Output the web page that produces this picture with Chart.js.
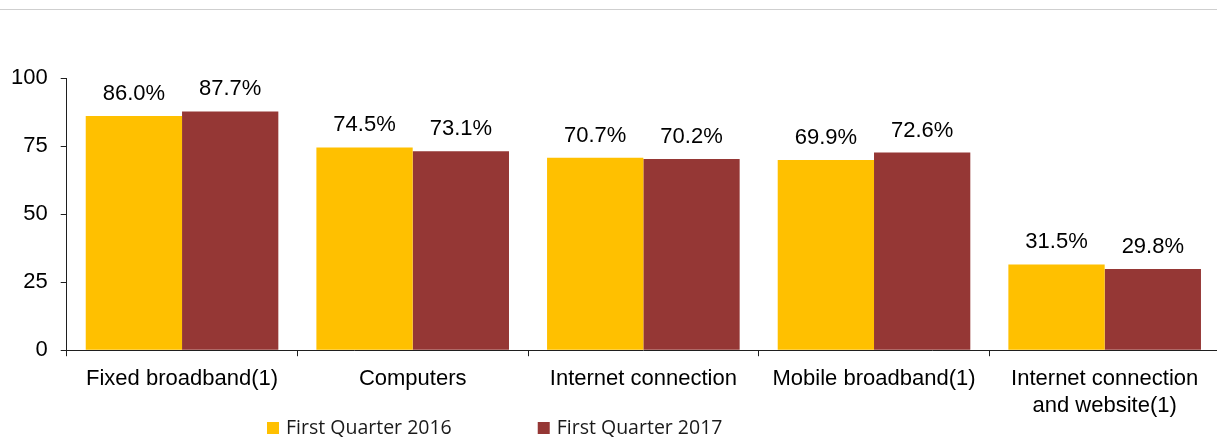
<!DOCTYPE html>
<html>
<head>
<meta charset="utf-8">
<script src="https://cdn.jsdelivr.net/npm/chart.js@4"></script>
<style>
    html, body { margin: 0; padding: 0; background: #fff; overflow: hidden; }
    #wrap { position: relative; width: 1220px; height: 438px; }
</style>
</head>
<body>
<div id="wrap"><canvas id="ictChart"></canvas></div>
<script>
// Categories and series
const categories = [
    'Fixed broadband(1)',
    'Computers',
    'Internet connection',
    'Mobile broadband(1)',
    ['Internet connection', 'and website(1)']
];
const q1_2016 = [86.0, 74.5, 70.7, 69.9, 31.5];
const q1_2017 = [87.7, 73.1, 70.2, 72.6, 29.8];
const seriesLabels = ['First Quarter 2016', 'First Quarter 2017'];
const yTicks = [0, 25, 50, 75, 100];

const YELLOW = '#FFC000';
const RED = '#953735';
const AXIS = '#1f1f1f';
const ARIAL = '"Liberation Sans", Arial, sans-serif';

// Thin grey rule across the top
const topRule = {
    id: 'topRule',
    beforeDraw(chart) {
        const ctx = chart.ctx;
        ctx.save();
        ctx.fillStyle = '#cfcfcf';
        ctx.fillRect(0, 9, chart.width, 1);
        ctx.restore();
    }
};

// Percent labels above every bar
const valueLabels = {
    id: 'valueLabels',
    afterDatasetsDraw(chart) {
        const ctx = chart.ctx;
        ctx.save();
        ctx.font = '22px ' + ARIAL;
        ctx.fillStyle = '#000';
        ctx.textAlign = 'center';
        ctx.textBaseline = 'alphabetic';
        chart.data.datasets.forEach((ds, i) => {
            chart.getDatasetMeta(i).data.forEach((bar, j) => {
                ctx.fillText(ds.data[j].toFixed(1) + '%', bar.x, bar.y - 16);
            });
        });
        ctx.restore();
    }
};

// Legend row under the axis
const bottomLegend = {
    id: 'bottomLegend',
    afterDraw(chart) {
        const ctx = chart.ctx;
        ctx.save();
        ctx.font = '19.5px "Open Sans", sans-serif';
        ctx.textBaseline = 'alphabetic';
        ctx.textAlign = 'left';
        let x = 267;
        chart.data.datasets.forEach(ds => {
            ctx.fillStyle = ds.backgroundColor;
            ctx.fillRect(x, 422, 12, 12);
            ctx.fillStyle = '#1a1a1a';
            ctx.fillText(ds.label, x + 19, 434);
            x += 19 + ctx.measureText(ds.label).width + 86;
        });
        ctx.restore();
    }
};

const ctx = document.getElementById('ictChart').getContext('2d');
new Chart(ctx, {
    type: 'bar',
    data: {
        labels: categories,
        datasets: [
            { label: seriesLabels[0], data: q1_2016, backgroundColor: YELLOW },
            { label: seriesLabels[1], data: q1_2017, backgroundColor: RED }
        ]
    },
    options: {
        responsive: true,
        maintainAspectRatio: false,
        animation: false,
        categoryPercentage: 0.835,
        barPercentage: 1.0,
        layout: {
            padding: { top: 78, left: -2, right: 0, bottom: 9 }
        },
        plugins: {
            legend: { display: false },
            tooltip: { enabled: false }
        },
        scales: {
            x: {
                offset: true,
                grid: {
                    offset: true,
                    drawOnChartArea: false,
                    tickLength: 6,
                    color: AXIS
                },
                border: { color: AXIS, width: 1 },
                ticks: {
                    color: '#000',
                    padding: 10,
                    maxRotation: 0,
                    autoSkip: false,
                    font: { family: ARIAL, size: 22 }
                }
            },
            y: {
                min: 0,
                max: 100,
                afterBuildTicks(scale) {
                    scale.ticks = yTicks.map(v => ({ value: v }));
                },
                grid: {
                    drawOnChartArea: false,
                    tickLength: 6,
                    color: AXIS
                },
                border: { color: AXIS, width: 1 },
                ticks: {
                    color: '#000',
                    padding: 13,
                    font: { family: ARIAL, size: 22 }
                }
            }
        }
    },
    plugins: [topRule, valueLabels, bottomLegend]
});
</script>
</body>
</html>
